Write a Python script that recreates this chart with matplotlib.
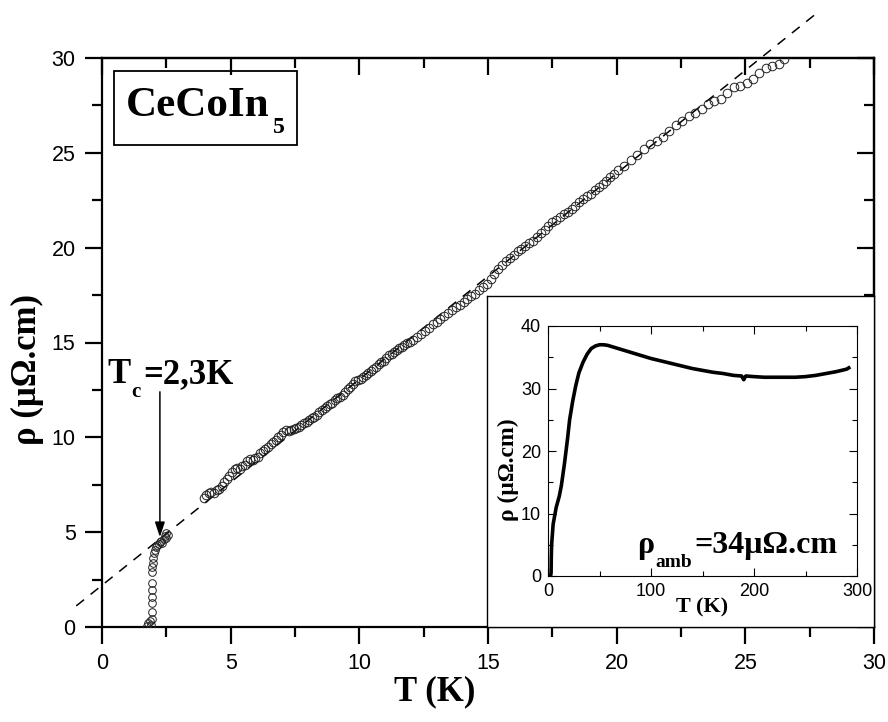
import numpy as np
import matplotlib
matplotlib.use("Agg")
import matplotlib.pyplot as plt
from matplotlib.patches import Rectangle
from matplotlib.transforms import offset_copy

# ---------------- data ----------------
# superconducting transition region
trans_T = [1.75, 1.80, 1.85, 1.90, 1.93, 1.93, 1.93, 1.93, 1.93, 1.93, 1.95, 1.95,
           1.97, 2.00, 2.02, 2.05, 2.10, 2.15, 2.20, 2.25, 2.30, 2.35, 2.40, 2.45,
           2.50, 2.55, 2.50]
trans_rho = [0.05, 0.20, 0.30, 0.10, 0.40, 0.80, 1.25, 1.60, 1.95, 2.30, 2.90, 3.15,
             3.40, 3.65, 3.90, 4.05, 4.20, 4.30, 4.40, 4.50, 4.55, 4.45, 4.65, 4.80,
             4.95, 4.85, 4.70]

# normal-state data
main_T = [3.95, 4.05, 4.15, 4.25, 4.35, 4.45, 4.55, 4.65, 4.75, 4.85, 4.95, 5.05,
          5.15, 5.25, 5.35, 5.45, 5.55, 5.65, 5.75, 5.85, 5.95, 6.05, 6.15, 6.25,
          6.35, 6.45, 6.55, 6.65, 6.75, 6.85, 6.95, 7.05, 7.15, 7.25, 7.35, 7.45,
          7.55, 7.65, 7.75, 7.85, 7.95, 8.05, 8.15, 8.25, 8.35, 8.45, 8.55, 8.65,
          8.75, 8.85, 8.95, 9.05, 9.15, 9.25, 9.35, 9.45, 9.55, 9.65, 9.75, 9.85,
          9.95, 10.05, 10.15, 10.25, 10.35, 10.45, 10.55, 10.65, 10.75, 10.85, 10.95,
          11.05, 11.15, 11.25, 11.35, 11.45, 11.55, 11.65, 11.75, 11.85, 11.95,
          12.10, 12.25, 12.40, 12.55, 12.70, 12.85, 13.00, 13.15, 13.30, 13.45, 13.60,
          13.75, 13.90, 14.05, 14.20, 14.35, 14.50, 14.65, 14.80, 14.95, 15.10, 15.25,
          15.40, 15.55, 15.70, 15.85, 16.00, 16.15, 16.30, 16.45, 16.60, 16.75, 16.90,
          17.05, 17.20, 17.35, 17.50, 17.65, 17.80, 17.95, 18.10, 18.25, 18.40, 18.55,
          18.70, 18.85, 19.00, 19.15, 19.30, 19.45, 19.60, 19.75, 19.90,
          20.05, 20.30, 20.55, 20.80, 21.05, 21.30, 21.55, 21.80, 22.05, 22.30, 22.55,
          22.80, 23.05, 23.30, 23.55, 23.80, 24.05, 24.30, 24.55, 24.80, 25.05, 25.30,
          25.55, 25.80, 26.05, 26.30, 26.50]
main_rho = [6.80, 6.95, 7.05, 7.10, 7.05, 7.20, 7.30, 7.45, 7.65, 7.80, 7.95, 8.15,
            8.35, 8.40, 8.35, 8.50, 8.55, 8.75, 8.85, 8.80, 8.90, 8.95, 9.15, 9.30,
            9.40, 9.50, 9.65, 9.75, 9.85, 10.00, 10.10, 10.30, 10.40, 10.35, 10.40, 10.45,
            10.50, 10.55, 10.65, 10.75, 10.80, 10.90, 11.00, 11.05, 11.20, 11.35, 11.45, 11.55,
            11.65, 11.75, 11.80, 11.95, 12.05, 12.15, 12.25, 12.40, 12.55, 12.65, 12.80, 12.95,
            13.00, 13.10, 13.20, 13.30, 13.40, 13.50, 13.60, 13.70, 13.85, 13.95, 14.05,
            14.20, 14.35, 14.40, 14.50, 14.60, 14.70, 14.75, 14.85, 14.95, 15.05,
            15.15, 15.30, 15.45, 15.60, 15.75, 15.95, 16.10, 16.25, 16.40, 16.55, 16.70,
            16.85, 17.00, 17.15, 17.30, 17.45, 17.55, 17.75, 17.95, 18.10, 18.35, 18.60,
            18.85, 19.10, 19.30, 19.45, 19.60, 19.80, 19.95, 20.10, 20.25, 20.35, 20.55,
            20.75, 20.95, 21.15, 21.35, 21.45, 21.60, 21.75, 21.90, 22.05, 22.20, 22.40,
            22.55, 22.70, 22.85, 23.05, 23.20, 23.35, 23.50, 23.70, 23.90,
            24.10, 24.30, 24.60, 24.90, 25.20, 25.45, 25.65, 25.85, 26.15, 26.45, 26.70,
            26.95, 27.10, 27.30, 27.55, 27.75, 27.85, 28.15, 28.45, 28.50, 28.70, 28.90,
            29.20, 29.45, 29.60, 29.70, 29.95]

# linear fit (dashed line)
fit_T_range = [-1.0, 27.9]
fit_intercept = 2.2
fit_slope = 1.086

# inset: full temperature range
inset_T = [2.5, 3.0, 3.2, 3.5, 5, 8, 11, 13, 16, 19, 21, 24, 27, 30, 34, 38, 42, 46,
           50, 54, 58, 62, 66, 72, 80, 90, 100, 110, 120, 130, 140, 150, 160, 170,
           180, 188, 190, 192, 200, 210, 220, 230, 240, 250, 260, 270, 280, 290, 292]
inset_rho = [0.0, 0.5, 3.0, 5.0, 8.3, 11.0, 12.8, 14.5, 18.0, 22.0, 25.0, 28.0, 30.5,
             32.5, 34.2, 35.5, 36.4, 36.8, 37.0, 37.0, 36.9, 36.7, 36.5, 36.2, 35.8,
             35.3, 34.8, 34.4, 34.0, 33.6, 33.2, 32.9, 32.6, 32.4, 32.1, 32.0, 31.4,
             32.0, 31.9, 31.8, 31.8, 31.8, 31.8, 31.9, 32.1, 32.4, 32.7, 33.1, 33.3]

main_xticks = [0, 5, 10, 15, 20, 25, 30]
main_yticks = [0, 5, 10, 15, 20, 25, 30]
inset_xticks = [0, 100, 200, 300]
inset_yticks = [0, 10, 20, 30, 40]

# ---------------- figure ----------------
W, H = 888, 722
fig = plt.figure(figsize=(W / 100, H / 100), dpi=100)
renderer = fig.canvas.get_renderer()

def fr(x0, y0, x1, y1):
    return [x0 / W, 1 - y1 / H, (x1 - x0) / W, (y1 - y0) / H]

serif_bold = dict(family='Liberation Serif', weight='bold')

def rich_text(axes, x, y, parts, transform, zorder=6):
    """parts: list of (string, fontsize, drop_px, gap_px_before)"""
    dx = 0.0
    for s, size, drop, gap in parts:
        dx += gap
        tr = offset_copy(transform, fig=fig, x=dx, y=-drop, units='dots')
        t = axes.text(x, y, s, transform=tr, fontsize=size, ha='left',
                      va='baseline', zorder=zorder, **serif_bold)
        dx += t.get_window_extent(renderer).width

ax = fig.add_axes(fr(102, 58, 874, 627))
ax.set_xlim(0, 30)
ax.set_ylim(0, 30)

# dashed fit line
fT = np.array(fit_T_range)
ax.plot(fT, fit_intercept + fit_slope * fT, ls=(0, (6.5, 5.5)), color='black', lw=1.1,
        clip_on=False, zorder=2)

ax.plot(trans_T, trans_rho, 'o', ms=5.5, mfc='none', mec='#222222', mew=0.7, zorder=3)
ax.plot(main_T, main_rho, 'o', ms=6.2, mfc='none', mec='#222222', mew=0.7, zorder=3)

for s in ax.spines.values():
    s.set_linewidth(1.6)
ax.set_xticks(main_xticks)
ax.set_yticks(main_yticks)
ax.set_xticks(np.arange(2.5, 30, 5), minor=True)
ax.set_yticks(np.arange(2.5, 30, 5), minor=True)
ax.tick_params(which='major', length=12, width=1.6, direction='out', top=False, right=False, pad=7)
ax.tick_params(which='minor', length=7, width=1.6, direction='out', top=False, right=False)
for lab in ax.get_xticklabels() + ax.get_yticklabels():
    lab.set_fontfamily('Liberation Sans')
    lab.set_fontsize(15.5)

# top/right inward ticks
sx = ax.secondary_xaxis('top')
sx.set_xticks(main_xticks)
sx.set_xticks(np.arange(2.5, 30, 5), minor=True)
sx.tick_params(which='major', direction='in', length=12, width=1.6, labeltop=False)
sx.tick_params(which='minor', direction='in', length=7, width=1.6)
sx.spines['top'].set_linewidth(1.6)
sy = ax.secondary_yaxis('right')
sy.set_yticks(main_yticks)
sy.set_yticks(np.arange(2.5, 30, 5), minor=True)
sy.tick_params(which='major', direction='in', length=12, width=1.6, labelright=False)
sy.tick_params(which='minor', direction='in', length=7, width=1.6)
sy.spines['right'].set_linewidth(1.6)

ax.set_xlabel('T (K)', fontsize=25, **serif_bold)
ax.xaxis.set_label_coords(0.431, -0.085)
ax.set_ylabel('ρ (μΩ.cm)', fontsize=25, **serif_bold)
ax.yaxis.set_label_coords(-0.075, 0.452)

# CeCoIn5 label box
ax.add_patch(Rectangle((0.0155, 0.847), 0.237, 0.130, transform=ax.transAxes,
                       fill=False, ec='black', lw=1.3, zorder=5))
rich_text(ax, 0.031, 0.898, [('CeCoIn', 31, 0, 0), ('5', 17, 17, 3)], ax.transAxes)

# Tc annotation
ax.annotate('', xy=(2.25, 4.74), xytext=(2.25, 12.4),
            arrowprops=dict(arrowstyle='-|>,head_length=0.9,head_width=0.3',
                            color='black', lw=1.1, shrinkA=0, shrinkB=0))
rich_text(ax, 0.23, 12.86, [('T', 25, 0, 0), ('c', 15, 14, 0), ('=2,3K', 25, 0, 3)],
          ax.transData)

# ---------------- inset ----------------
frame = fig.add_axes(fr(487, 296, 874, 627))
frame.set_xticks([])
frame.set_yticks([])
frame.set_facecolor('white')
for s in frame.spines.values():
    s.set_linewidth(1.0)
frame.set_zorder(4)

ins = fig.add_axes(fr(548, 326, 857, 576))
ins.set_zorder(5)
ins.plot(inset_T, inset_rho, color='black', lw=2.6)
ins.set_xlim(0, 300)
ins.set_ylim(0, 40)
ins.set_xticks(inset_xticks)
ins.set_yticks(inset_yticks)
ins.set_xticks(np.arange(50, 300, 100), minor=True)
ins.set_yticks(np.arange(5, 40, 10), minor=True)
ins.tick_params(which='both', direction='in', top=True, right=True, width=0.8)
ins.tick_params(which='major', length=6, pad=5)
ins.tick_params(which='minor', length=3.5)
for s in ins.spines.values():
    s.set_linewidth(0.8)
for lab in ins.get_xticklabels() + ins.get_yticklabels():
    lab.set_fontfamily('Liberation Sans')
    lab.set_fontsize(13)
ins.set_xlabel('T (K)', fontsize=16, **serif_bold)
ins.xaxis.set_label_coords(0.50, -0.085)
ins.set_ylabel('ρ (μΩ.cm)', fontsize=17, **serif_bold)
ins.yaxis.set_label_coords(-0.095, 0.424)
rich_text(ins, 87, 3.7, [('ρ', 23, 0, 0), ('amb', 14, 14, 1), ('=34μΩ.cm', 23, 0, 2)],
          ins.transData)

fig.savefig('out.png', dpi=100)
